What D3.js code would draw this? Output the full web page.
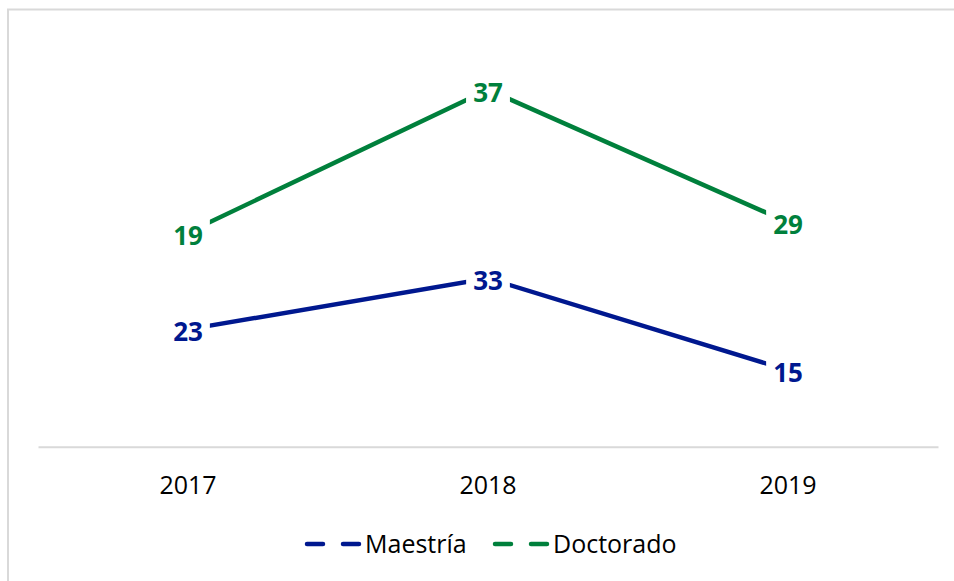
<!DOCTYPE html>
<html>
<head>
<meta charset="utf-8">
<script src="https://cdn.jsdelivr.net/npm/d3@7"></script>
<style>
  body { margin: 0; background: #fff; }
  svg { display: block; font-family: "Open Sans", "Noto Sans", sans-serif; }
</style>
</head>
<body>
<script>
// chart data
var years = ["2017", "2018", "2019"];
var maestria = [23, 33, 15];
var doctorado = [19, 37, 29];
var seriesNames = ["Maestría", "Doctorado"];
var seriesColors = ["#00188f", "#00803c"];

var svgWidth = 954;
var svgHeight = 581;

var svg = d3.select("body")
  .append("svg")
  .attr("width", svgWidth)
  .attr("height", svgHeight);

// outer chart border (runs off the right and bottom edges)
svg.append("rect")
  .attr("x", 8)
  .attr("y", 9.5)
  .attr("width", 1000)
  .attr("height", 700)
  .attr("fill", "none")
  .attr("stroke", "#d9d9d9")
  .attr("stroke-width", 2);

// stacked line: doctorado sits on top of maestria
var series = [
  maestria.map(function(v, i) { return { year: years[i], value: v, top: v }; }),
  doctorado.map(function(v, i) { return { year: years[i], value: v, top: v + maestria[i] }; })
];

var x = d3.scaleBand().domain(years).range([38, 938]);
var y = d3.scaleLinear().domain([0, 80]).range([446.7, 38.7]);

// category axis
var xAxis = svg.append("g")
  .attr("transform", "translate(0,446.7)")
  .call(d3.axisBottom(x).tickSize(0).tickPadding(30));
xAxis.select(".domain").attr("stroke", "#d9d9d9").attr("stroke-width", 2);
xAxis.selectAll("text")
  .attr("font-size", "25px")
  .attr("fill", "#000")
  .attr("font-family", "'Open Sans', 'Noto Sans', sans-serif");

var line = d3.line()
  .x(function(d) { return x(d.year) + x.bandwidth() / 2; })
  .y(function(d) { return y(d.top); });

series.forEach(function(s, k) {
  svg.append("path")
    .datum(s)
    .attr("fill", "none")
    .attr("stroke", seriesColors[k])
    .attr("stroke-width", 4.5)
    .attr("d", line);
});

// data labels with white boxes that break the line
series.forEach(function(s, k) {
  var g = svg.append("g");
  s.forEach(function(d) {
    var cx = x(d.year) + x.bandwidth() / 2;
    var cy = y(d.top);
    var lbl = g.append("g");
    var box = lbl.append("rect").attr("fill", "#fff");
    var t = lbl.append("text")
      .attr("x", cx)
      .attr("y", cy + 12)
      .attr("text-anchor", "middle")
      .attr("font-size", "26px")
      .attr("font-weight", "bold")
      .attr("fill", seriesColors[k])
      .text(d.value);
    var bb = t.node().getBBox();
    box.attr("x", cx - bb.width / 2 - 7)
      .attr("y", cy - 16)
      .attr("width", bb.width + 14)
      .attr("height", 36);
  });
});

// legend
var legend = svg.append("g");
var legendX = [305, 493];
seriesNames.forEach(function(name, k) {
  var lg = legend.append("g").attr("transform", "translate(" + legendX[k] + ",544)");
  lg.append("line")
    .attr("x1", 2).attr("x2", 54)
    .attr("y1", 0).attr("y2", 0)
    .attr("stroke", seriesColors[k])
    .attr("stroke-width", 4.5)
    .attr("stroke-linecap", "round")
    .attr("stroke-dasharray", "16 20");
  lg.append("text")
    .attr("x", 60)
    .attr("y", 9)
    .attr("font-size", "25px")
    .attr("fill", "#000")
    .text(name);
});
</script>
</body>
</html>
